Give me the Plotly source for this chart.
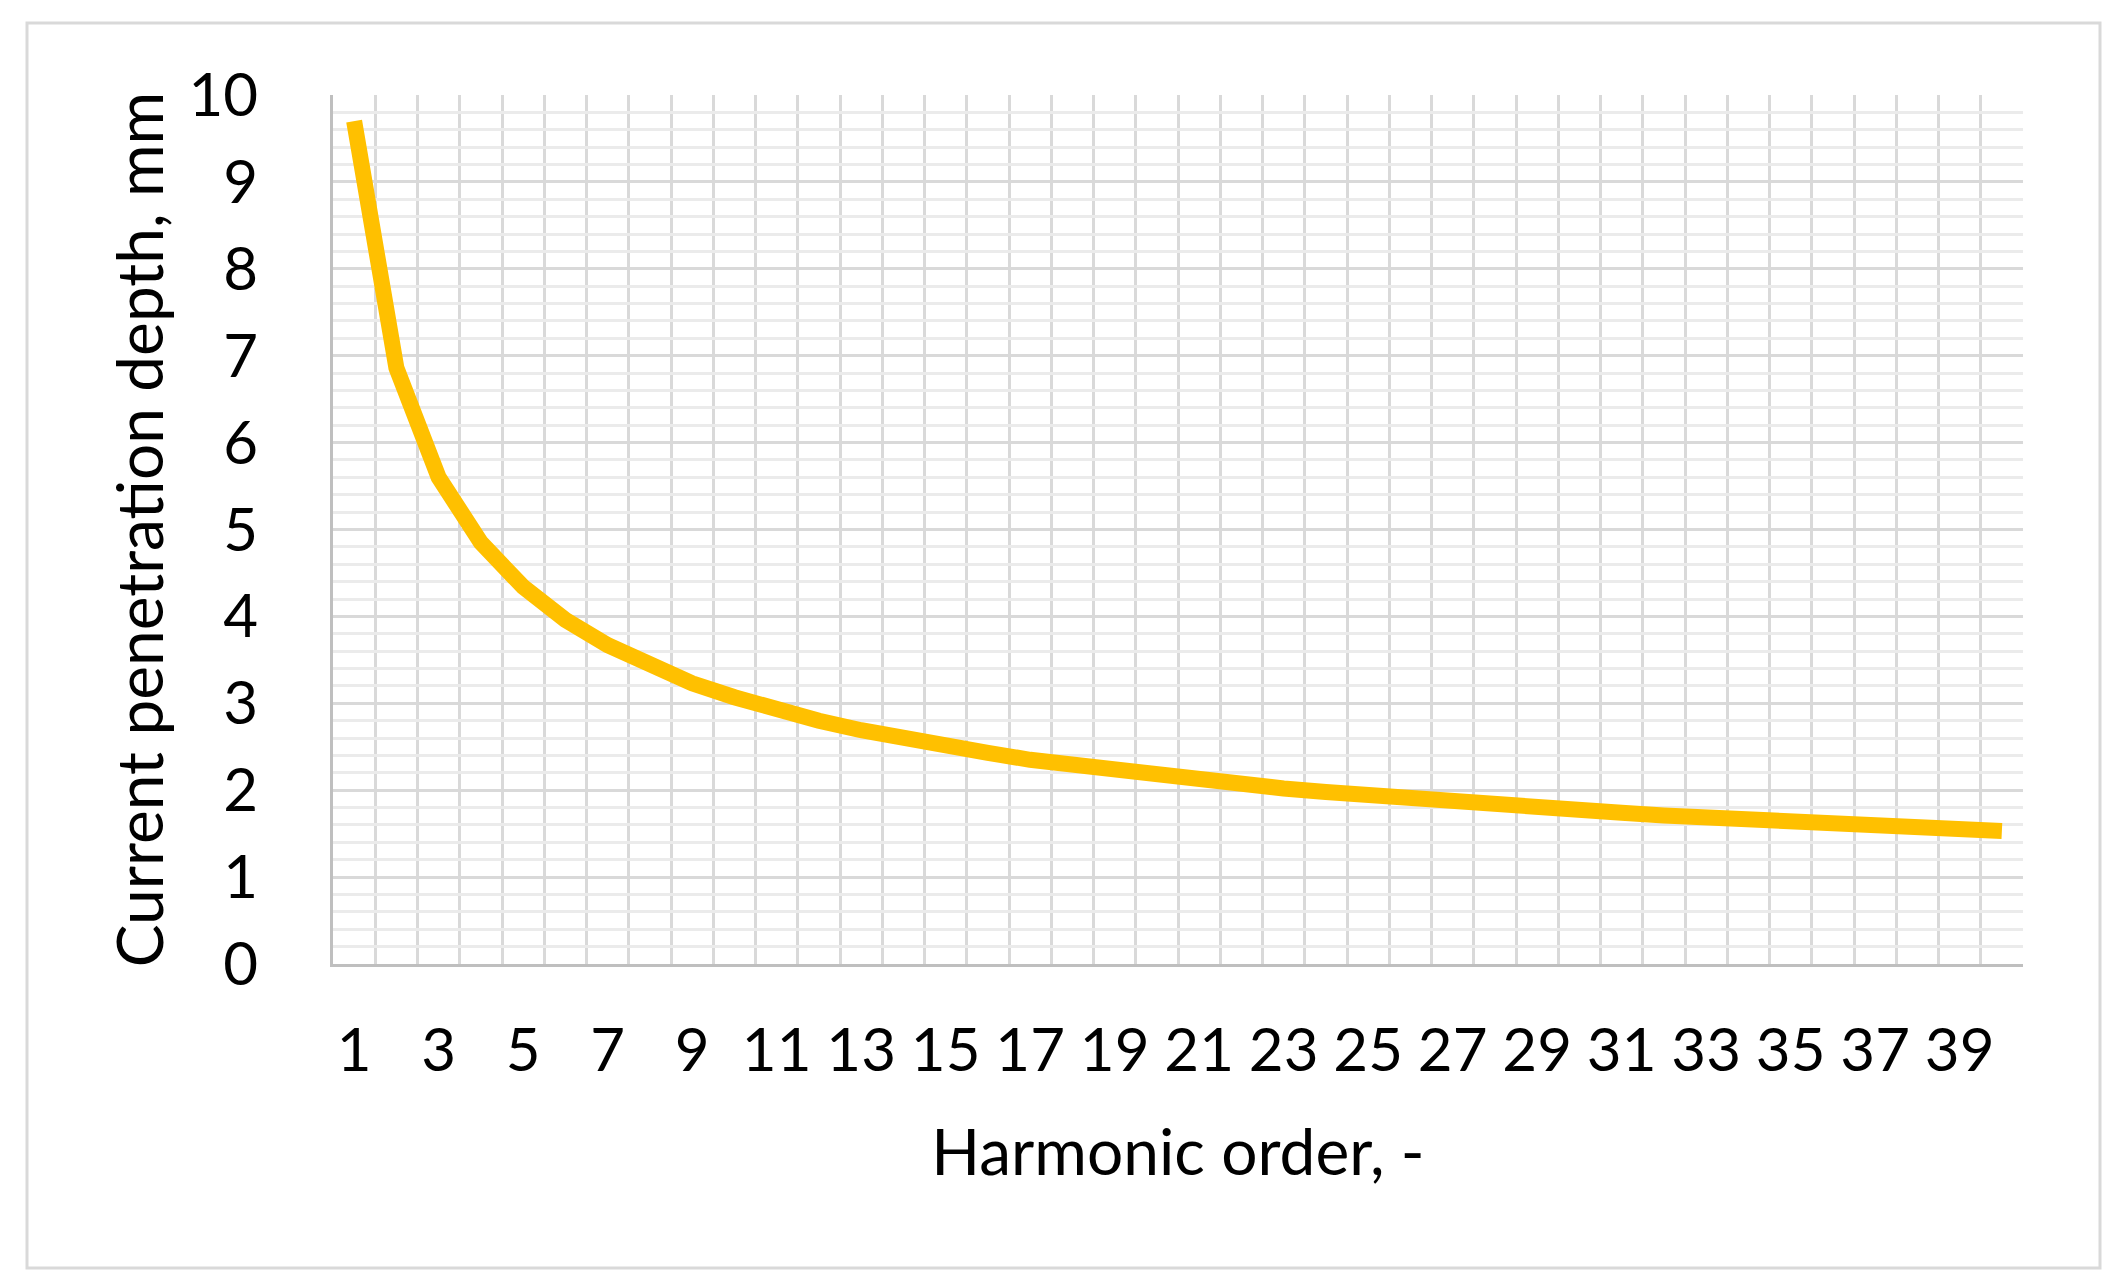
import plotly.graph_objects as go

harmonic_order = list(range(1, 41))
penetration_depth_mm = [9.70, 6.86, 5.60, 4.85, 4.34, 3.96, 3.67, 3.43, 3.23, 3.07,
                        2.92, 2.80, 2.69, 2.59, 2.50, 2.43, 2.35, 2.29, 2.23, 2.17,
                        2.12, 2.07, 2.02, 1.98, 1.94, 1.90, 1.87, 1.83, 1.80, 1.77,
                        1.74, 1.71, 1.69, 1.66, 1.64, 1.62, 1.59, 1.57, 1.55, 1.53]
x_tick_labels = list(range(1, 41, 2))
y_tick_labels = list(range(0, 11))

W, H = 2122, 1288
OFF = 8  # default page body margin
L, R, T, B = 333 - OFF, 2023 - OFF, 95 - OFF, 964 - OFF
FONT = "Lato"

fig = go.Figure()
fig.add_trace(go.Scatter(
    x=harmonic_order, y=penetration_depth_mm, mode="lines",
    line=dict(color="#FFC000", width=16), hoverinfo="skip", showlegend=False,
))

pw, ph = R - L, B - T
def px(x):
    return (x - OFF - L) / pw
def py(y):
    return (B - (y - OFF)) / ph

fig.add_shape(type="rect", xref="paper", yref="paper",
              x0=px(27), x1=px(2100), y0=py(1268), y1=py(23),
              line=dict(color="#D9D9D9", width=3), layer="below")

fig.update_layout(
    width=W, height=H,
    margin=dict(l=L, r=W - R, t=T, b=H - B, pad=0),
    paper_bgcolor="white", plot_bgcolor="white",
    font=dict(family=FONT, color="#000000", size=60),
    xaxis=dict(
        range=[0.5, 40.5], tickmode="array", tickvals=x_tick_labels,
        ticktext=[str(v) for v in x_tick_labels],
        showgrid=False, ticks="", zeroline=False,
        showline=True, linecolor="#BFBFBF", linewidth=3,
        ticklabelstandoff=32,
        minor=dict(tickmode="linear", tick0=0.5, dtick=1, showgrid=True,
                   gridcolor="#D9D9D9", gridwidth=2.5, ticks=""),
        title=dict(text="Harmonic order, -", font=dict(size=64, family=FONT), standoff=48),
        tickfont=dict(size=60, family=FONT),
    ),
    yaxis=dict(
        range=[0, 10], tickmode="array", tickvals=y_tick_labels,
        ticktext=[str(v) for v in y_tick_labels],
        showgrid=True, gridcolor="#D9D9D9", gridwidth=3, ticks="", zeroline=False,
        showline=True, linecolor="#BFBFBF", linewidth=3,
        ticklabelstandoff=60,
        minor=dict(tickmode="linear", tick0=0, dtick=0.2, showgrid=True,
                   gridcolor="#EBEBEB", gridwidth=2.5, ticks=""),
        title=dict(text="Current penetration depth, mm", font=dict(size=64, family=FONT), standoff=4),
        tickfont=dict(size=60, family=FONT),
    ),
)

fig.write_html("out.html")
